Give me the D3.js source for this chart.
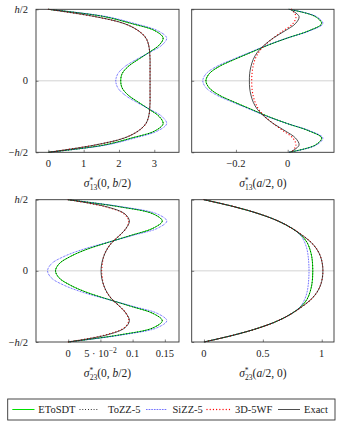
<!DOCTYPE html>
<html><head><meta charset="utf-8">
<script src="https://cdn.jsdelivr.net/npm/d3@7"></script>
<style>
body{margin:0;background:#fff;}
svg text{font-family:"Liberation Serif","DejaVu Serif",serif;}
</style></head><body>
<svg id="c" width="341" height="425"></svg>
<script>
// thickness coordinate z/h (top to bottom)
const zGrid = [0.5,0.45,0.4,0.35,0.3,0.25,0.2,0.15,0.1,0.05,0,-0.05,-0.1,-0.15,-0.2,-0.25,-0.3,-0.35,-0.4,-0.45,-0.5];

// Panel 1: sigma13(0,b/2)
const p1_EToSDT = [0,1.56,2.36,3.02,3.25,3.14,2.86,2.55,2.26,2.09,2.05,2.09,2.26,2.55,2.86,3.14,3.25,3.02,2.36,1.56,0];
const p1_ToZZ5  = [0,1.56,2.36,3.02,3.25,3.14,2.86,2.55,2.26,2.09,2.05,2.09,2.26,2.55,2.86,3.14,3.25,3.02,2.36,1.56,0];
const p1_SiZZ5  = [0,1.62,2.45,3.10,3.35,3.22,2.88,2.50,2.17,1.97,1.91,1.97,2.17,2.50,2.88,3.22,3.35,3.10,2.45,1.62,0];
const p1_3D5WF  = [0,1.30,2.15,2.55,2.76,2.84,2.87,2.88,2.88,2.88,2.88,2.88,2.88,2.88,2.87,2.84,2.76,2.55,2.15,1.30,0];
const p1_Exact  = [0,1.30,2.15,2.55,2.76,2.84,2.87,2.88,2.88,2.88,2.88,2.88,2.88,2.88,2.87,2.84,2.76,2.55,2.15,1.30,0];

// Panel 2: sigma13(a/2,0)
const p2_EToSDT = [0.005,0.106,0.131,0.082,0.0,-0.075,-0.14,-0.205,-0.265,-0.303,-0.316,-0.303,-0.265,-0.205,-0.14,-0.075,0.0,0.082,0.131,0.106,0.005];
const p2_ToZZ5  = [0.005,0.106,0.131,0.082,0.0,-0.075,-0.14,-0.205,-0.265,-0.303,-0.316,-0.303,-0.265,-0.205,-0.14,-0.075,0.0,0.082,0.131,0.106,0.005];
const p2_SiZZ5  = [0.005,0.110,0.136,0.086,0.0,-0.078,-0.145,-0.212,-0.275,-0.315,-0.328,-0.315,-0.275,-0.212,-0.145,-0.078,0.0,0.086,0.136,0.110,0.005];
const p2_3D5WF  = [0.015,0.032,0.020,-0.017,-0.055,-0.088,-0.112,-0.126,-0.134,-0.138,-0.139,-0.138,-0.134,-0.126,-0.112,-0.088,-0.055,-0.017,0.020,0.032,0.015];
const p2_Exact  = [0.009,0.044,0.030,-0.010,-0.055,-0.090,-0.117,-0.133,-0.142,-0.147,-0.148,-0.147,-0.142,-0.133,-0.117,-0.090,-0.055,-0.010,0.030,0.044,0.009];

// Panel 3: sigma23(0,b/2)
const p3_EToSDT = [0,0.080,0.132,0.146,0.132,0.098,0.062,0.028,0.003,-0.014,-0.0197,-0.014,0.003,0.028,0.062,0.098,0.132,0.146,0.132,0.080,0];
const p3_ToZZ5  = [0,0.080,0.132,0.146,0.132,0.098,0.062,0.028,0.003,-0.014,-0.0197,-0.014,0.003,0.028,0.062,0.098,0.132,0.146,0.132,0.080,0];
const p3_SiZZ5  = [0,0.084,0.138,0.153,0.139,0.101,0.061,0.022,-0.007,-0.026,-0.032,-0.026,-0.007,0.022,0.061,0.101,0.139,0.153,0.138,0.084,0];
const p3_3D5WF  = [0,0.058,0.087,0.094,0.090,0.080,0.068,0.060,0.055,0.053,0.052,0.053,0.055,0.060,0.068,0.080,0.090,0.094,0.087,0.058,0];
const p3_Exact  = [0,0.060,0.088,0.095,0.090,0.080,0.068,0.060,0.055,0.052,0.051,0.052,0.055,0.060,0.068,0.080,0.090,0.095,0.088,0.060,0];

// Panel 4: sigma23(a/2,0)
const p4_EToSDT = [0,0.26,0.47,0.63,0.745,0.825,0.875,0.90,0.915,0.922,0.924,0.922,0.915,0.90,0.875,0.825,0.745,0.63,0.47,0.26,0];
const p4_ToZZ5  = [0,0.26,0.47,0.63,0.745,0.825,0.875,0.90,0.915,0.922,0.924,0.922,0.915,0.90,0.875,0.825,0.745,0.63,0.47,0.26,0];
const p4_SiZZ5  = [0,0.26,0.47,0.63,0.745,0.82,0.855,0.875,0.885,0.89,0.892,0.89,0.885,0.875,0.855,0.82,0.745,0.63,0.47,0.26,0];
const p4_3D5WF  = [0,0.26,0.47,0.63,0.745,0.835,0.91,0.96,0.99,1.005,1.01,1.005,0.99,0.96,0.91,0.835,0.745,0.63,0.47,0.26,0];
const p4_Exact  = [0,0.26,0.47,0.63,0.745,0.835,0.91,0.96,0.99,1.005,1.01,1.005,0.99,0.96,0.91,0.835,0.745,0.63,0.47,0.26,0];

const seriesNames = ["EToSDT","ToZZ-5","SiZZ-5","3D-5WF","Exact"];
const yTickValues = [0.5, 0, -0.5];
const yTickLabels = ["h/2","0","\u2212h/2"];

const p1_xTicks = [0,1,2,3];       const p1_xTickLabels = ["0","1","2","3"];
const p2_xTicks = [-0.2,0];        const p2_xTickLabels = ["\u22120.2","0"];
const p3_xTicks = [0,0.05,0.1,0.15]; const p3_xTickLabels = ["0","5e","0.1","0.15"];
const p4_xTicks = [0,0.5,1];       const p4_xTickLabels = ["0","0.5","1"];

const styles = {
  "EToSDT": {stroke:"#00e000", width:1.0, dash:null},
  "ToZZ-5": {stroke:"#000", width:1.0, dash:"0.01,2.8", cap:"round"},
  "SiZZ-5": {stroke:"#0000ff", width:0.8, dash:"0.7,0.9"},
  "3D-5WF": {stroke:"#ff0000", width:1.3, dash:"0.01,3.2", cap:"round"},
  "Exact":  {stroke:"#222", width:0.8, dash:null}
};

const FF = "Liberation Serif, DejaVu Serif, serif";
const svg = d3.select("#c");
const FS = 10.5;

function panel(cfg){
  const g = svg.append("g");
  const x = d3.scaleLinear().domain(cfg.xDomain).range([cfg.x0, cfg.x1]);
  const y = d3.scaleLinear().domain([-0.5,0.5]).range([cfg.y1, cfg.y0]);
  g.append("line").attr("x1",cfg.x0).attr("x2",cfg.x1).attr("y1",y(0)).attr("y2",y(0))
    .attr("stroke","#c8c8c8").attr("stroke-width",0.8);
  const clipId = "clip"+cfg.id;
  svg.append("clipPath").attr("id",clipId).append("rect")
    .attr("x",cfg.x0).attr("y",cfg.y0-1).attr("width",cfg.x1-cfg.x0).attr("height",cfg.y1-cfg.y0+2);
  const cg = g.append("g").attr("clip-path",`url(#${clipId})`);
  const line = d3.line().x(d=>x(d[0])).y(d=>y(d[1])).curve(d3.curveCatmullRom.alpha(0.5));
  cfg.series.forEach((vals,i)=>{
    const st = styles[seriesNames[i]];
    const pts = vals.map((v,j)=>[v, zGrid[j]]);
    cg.append("path").attr("d",line(pts)).attr("fill","none")
      .attr("stroke",st.stroke).attr("stroke-width",st.width)
      .attr("stroke-dasharray",st.dash).attr("stroke-linecap",st.cap||"butt");
  });
  g.append("rect").attr("x",cfg.x0).attr("y",cfg.y0).attr("width",cfg.x1-cfg.x0).attr("height",cfg.y1-cfg.y0)
    .attr("fill","none").attr("stroke","#333").attr("stroke-width",0.9);
  const xa = d3.axisBottom(x).tickValues(cfg.xTicks).tickSize(-2.5).tickFormat("");
  const xg = g.append("g").attr("transform",`translate(0,${cfg.y1})`).call(xa);
  xg.select(".domain").remove();
  xg.selectAll(".tick line").attr("stroke","#333").attr("stroke-width",0.6);
  cfg.xTicks.forEach((t,i)=>{
    const lab = cfg.xTickLabels[i];
    const tx = g.append("text").attr("x",x(t)).attr("y",cfg.y1+14.5).attr("font-family",FF)
      .attr("text-anchor","middle").attr("font-size",FS).attr("fill","#222");
    if(lab==="5e"){
      tx.append("tspan").text("5 \u00b7 10");
      tx.append("tspan").attr("font-size",FS*0.72).attr("dy",-4).text("\u22122");
    } else tx.text(lab);
  });
  const ya = d3.axisLeft(y).tickValues(yTickValues).tickSize(-2.5).tickFormat("");
  const yg = g.append("g").attr("transform",`translate(${cfg.x0},0)`).call(ya);
  yg.select(".domain").remove();
  yg.selectAll(".tick line").attr("stroke","#333").attr("stroke-width",0.6);
  if(cfg.yLabels){
    yTickValues.forEach((t,i)=>{
      const lab = yTickLabels[i];
      const tx = g.append("text").attr("x",cfg.x0-8).attr("y",y(t)+3.5).attr("font-family",FF)
        .attr("text-anchor","end").attr("font-size",FS).attr("fill","#222");
      if(lab==="0") tx.text("0");
      else {
        if(lab.startsWith("\u2212")) tx.append("tspan").text("\u2212");
        tx.append("tspan").attr("font-style","italic").text("h");
        tx.append("tspan").text("/2");
      }
    });
  }
  const L = cfg.label;
  const t = g.append("text").attr("x",(cfg.x0+cfg.x1)/2).attr("y",cfg.y1+34.5).attr("font-family",FF)
    .attr("text-anchor","middle").attr("font-size",11.5).attr("fill","#222");
  t.append("tspan").attr("font-style","italic").text("\u03c3");
  t.append("tspan").attr("font-size",7.5).attr("dy",-4).text("*");
  t.append("tspan").attr("font-size",7.5).attr("dx",-3.5).attr("dy",7.5).text(L.sub);
  t.append("tspan").attr("dy",-3.5).text("(");
  L.args.forEach(a=>{
    t.append("tspan").attr("font-style",a.it?"italic":"normal").text(a.s);
  });
  t.append("tspan").text(")");
}

panel({id:1,x0:36,x1:179,y0:9.3,y1:152.3,xDomain:[-0.35,3.70],
  series:[p1_EToSDT,p1_ToZZ5,p1_SiZZ5,p1_3D5WF,p1_Exact],
  xTicks:p1_xTicks,xTickLabels:p1_xTickLabels,yLabels:true,
  label:{sub:"13",args:[{s:"0, "},{s:"b",it:true},{s:"/2"}]}});
panel({id:2,x0:191.7,x1:334,y0:9.3,y1:152.3,xDomain:[-0.371,0.179],
  series:[p2_EToSDT,p2_ToZZ5,p2_SiZZ5,p2_3D5WF,p2_Exact],
  xTicks:p2_xTicks,xTickLabels:p2_xTickLabels,yLabels:false,
  label:{sub:"13",args:[{s:"a",it:true},{s:"/2, 0"}]}});
panel({id:3,x0:36,x1:179,y0:199.7,y1:342,xDomain:[-0.05,0.172],
  series:[p3_EToSDT,p3_ToZZ5,p3_SiZZ5,p3_3D5WF,p3_Exact],
  xTicks:p3_xTicks,xTickLabels:p3_xTickLabels,yLabels:true,
  label:{sub:"23",args:[{s:"0, "},{s:"b",it:true},{s:"/2"}]}});
panel({id:4,x0:191.7,x1:334,y0:199.7,y1:342,xDomain:[-0.104,1.104],
  series:[p4_EToSDT,p4_ToZZ5,p4_SiZZ5,p4_3D5WF,p4_Exact],
  xTicks:p4_xTicks,xTickLabels:p4_xTickLabels,yLabels:false,
  label:{sub:"23",args:[{s:"a",it:true},{s:"/2, 0"}]}});

const lg = svg.append("g");
lg.append("rect").attr("x",7.7).attr("y",399).attr("width",327.3).attr("height",21)
  .attr("fill","#fff").attr("stroke","#333").attr("stroke-width",0.9);
const legendX = [[12.3,34.5,38.3],[80,97,108],[146,167,172.5],[207,230,235],[278,300,304]];
seriesNames.forEach((n,i)=>{
  const st = styles[n]; const [a,b,c] = legendX[i];
  lg.append("line").attr("x1",a).attr("x2",b).attr("y1",409.5).attr("y2",409.5)
    .attr("stroke",st.stroke).attr("stroke-width",st.width)
    .attr("stroke-dasharray",st.dash).attr("stroke-linecap",st.cap||"butt");
  lg.append("text").attr("x",c).attr("y",413).attr("font-family",FF).attr("font-size",FS).attr("fill","#222").text(n);
});
</script>
</body></html>
